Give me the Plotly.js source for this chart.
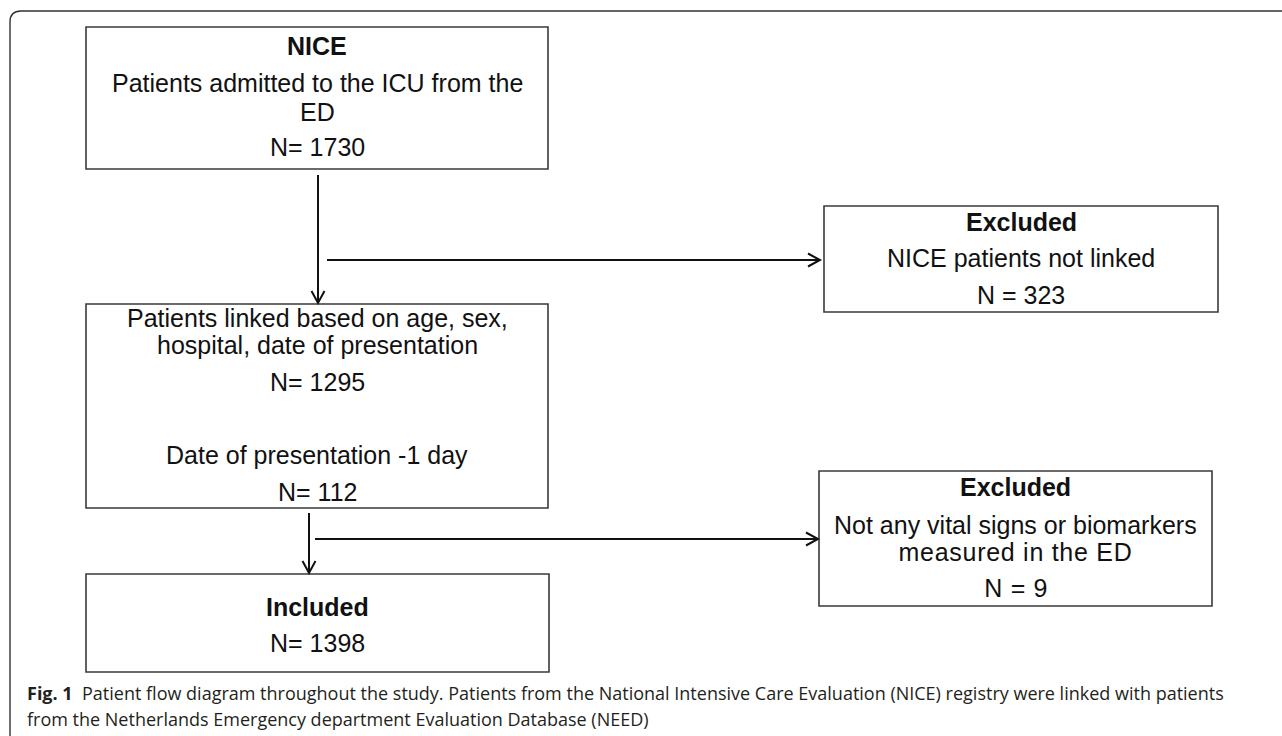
<!DOCTYPE html>
<html>
<head>
<meta charset="utf-8">
<script src="https://cdn.plot.ly/plotly-3.0.1.min.js"></script>
<style>
  html, body { margin: 0; padding: 0; background: #ffffff; }
  #chart { width: 1282px; height: 736px; }
  #chart g.annotation[data-index="16"] text,
  #chart g.annotation[data-index="17"] text { letter-spacing: 0.72px; }
</style>
</head>
<body>
<div id="chart"></div>
<script>
// ---------------- data ----------------
const stageNames = ["NICE", "", "Included"];
const stageDescriptions = [
  ["Patients admitted to the ICU from the", "ED"],
  ["Patients linked based on age, sex,", "hospital, date of presentation"],
  []
];
const stageCounts = [1730, 1295, 1398];
const secondaryLinkLabel = "Date of presentation -1 day";
const secondaryLinkCount = 112;
const exclusionNames = ["Excluded", "Excluded"];
const exclusionReasons = [
  ["NICE patients not linked"],
  ["Not any vital signs or biomarkers", "measured in the ED"]
];
const exclusionCounts = [323, 9];
const captionLabel = "Fig. 1";
const captionLines = [
  "Patient flow diagram throughout the study. Patients from the National Intensive Care Evaluation (NICE) registry were linked with patients",
  "from the Netherlands Emergency department Evaluation Database (NEED)"
];

// ---------------- geometry (pixel-space axes) ----------------
const W = 1282, H = 736;
const geo = {
  stageBoxes: [
    {x0: 86, x1: 548, y0: 27, y1: 169, lineY: [46, 83, 112, 147]},
    {x0: 86, x1: 548, y0: 304, y1: 508, lineY: [318, 345, 382, 455, 492]},
    {x0: 86, x1: 549, y0: 574, y1: 672, lineY: [607, 643]}
  ],
  exclBoxes: [
    {x0: 824, x1: 1218, y0: 206, y1: 312, lineY: [222, 258, 295]},
    {x0: 819, x1: 1212, y0: 471, y1: 606, lineY: [487, 525, 552, 588]}
  ],
  downArrows: [
    {x: 318, y0: 175, y1: 303},
    {x: 309, y0: 513, y1: 573}
  ],
  sideArrows: [
    {x0: 327, x1: 820, y: 260},
    {x0: 315, x1: 818, y: 539}
  ],
  caption: {x: 25, y: [693, 719]}
};

const boxFont = {family: "Liberation Sans, Arial, sans-serif", size: 25, color: "#111111"};
const capFont = {family: "Open Sans, sans-serif", size: 18, color: "#231f20"};
const boxLine = {color: "#3a3a3a", width: 1.6};
const arrowLine = {color: "#111111", width: 2};

const shapes = [];
const annotations = [];

function addText(txt, x, y, bold) {
  annotations.push({
    x: x, y: y, xref: "x", yref: "y",
    text: bold ? "<b>" + txt + "</b>" : txt,
    showarrow: false, xanchor: "center", yanchor: "middle",
    font: boxFont
  });
}
function addBox(b) {
  shapes.push({type: "rect", xref: "x", yref: "y", x0: b.x0, x1: b.x1, y0: b.y0, y1: b.y1,
    line: boxLine, fillcolor: "rgba(0,0,0,0)"});
}

// stage boxes
geo.stageBoxes.forEach((b, i) => {
  addBox(b);
  const cx = (b.x0 + b.x1) / 2;
  const lines = [];
  if (stageNames[i]) lines.push([stageNames[i], true]);
  stageDescriptions[i].forEach(t => lines.push([t, false]));
  lines.push(["N= " + stageCounts[i], false]);
  if (i === 1) {
    lines.push([secondaryLinkLabel, false]);
    lines.push(["N= " + secondaryLinkCount, false]);
  }
  lines.forEach((l, k) => addText(l[0], cx, b.lineY[k], l[1]));
});

// exclusion boxes
geo.exclBoxes.forEach((b, i) => {
  addBox(b);
  const cx = (b.x0 + b.x1) / 2;
  const lines = [[exclusionNames[i], true]];
  exclusionReasons[i].forEach(t => lines.push([t, false]));
  lines.push(["N = " + exclusionCounts[i], false]);
  lines.forEach((l, k) => addText(l[0], cx, b.lineY[k], l[1]));
});

// arrows
geo.downArrows.forEach(a => {
  shapes.push({type: "line", xref: "x", yref: "y", x0: a.x, x1: a.x, y0: a.y0, y1: a.y1 - 1, line: arrowLine});
  shapes.push({type: "path", xref: "x", yref: "y",
    path: `M ${a.x - 6.5} ${a.y1 - 12} L ${a.x} ${a.y1} L ${a.x + 6.5} ${a.y1 - 12}`, line: arrowLine});
});
geo.sideArrows.forEach(a => {
  shapes.push({type: "line", xref: "x", yref: "y", x0: a.x0, x1: a.x1 - 1, y0: a.y, y1: a.y, line: arrowLine});
  shapes.push({type: "path", xref: "x", yref: "y",
    path: `M ${a.x1 - 12} ${a.y - 6.5} L ${a.x1} ${a.y} L ${a.x1 - 12} ${a.y + 6.5}`, line: arrowLine});
});

// outer rounded frame
shapes.push({type: "path", xref: "x", yref: "y",
  path: "M 10 760 L 10 22 Q 10 11 21 11 L 1300 11", line: {color: "#333333", width: 1.4}});

// caption
annotations.push({x: geo.caption.x, y: geo.caption.y[0], xref: "x", yref: "y",
  text: "<b>" + captionLabel + "</b>  " + captionLines[0],
  showarrow: false, xanchor: "left", yanchor: "middle", font: capFont});
annotations.push({x: geo.caption.x, y: geo.caption.y[1], xref: "x", yref: "y",
  text: captionLines[1],
  showarrow: false, xanchor: "left", yanchor: "middle", font: capFont});

const layout = {
  width: W, height: H,
  margin: {l: 0, r: 0, t: 0, b: 0},
  paper_bgcolor: "#ffffff", plot_bgcolor: "#ffffff",
  xaxis: {range: [0, W], visible: false, fixedrange: true},
  yaxis: {range: [H, 0], visible: false, fixedrange: true},
  showlegend: false,
  shapes: shapes,
  annotations: annotations
};

Plotly.newPlot("chart", [{x: [], y: [], type: "scatter", mode: "markers", hoverinfo: "skip"}], layout,
  {displayModeBar: false, staticPlot: true});
</script>
</body>
</html>
